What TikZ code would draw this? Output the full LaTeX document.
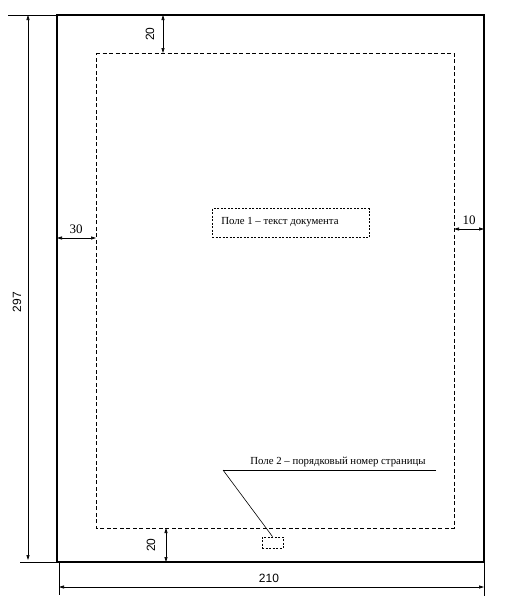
\documentclass[tikz,border=0pt]{standalone}
\usepackage{fontspec}
\setmainfont{Liberation Serif}
\newfontfamily\dimsans{Liberation Sans}
\usetikzlibrary{arrows.meta}
\begin{document}
\begin{tikzpicture}[x=1pt,y=-1pt,
  dimline/.style={line width=0.7pt,{Triangle[length=5pt,width=3pt]}-{Triangle[length=5pt,width=3pt]}},
  extline/.style={line width=0.6pt},
  pageborder/.style={line width=1.6pt},
  fieldline/.style={line width=0.8pt,dash pattern=on 4pt off 2.5pt},
  smallbox/.style={draw,line width=0.8pt,dash pattern=on 2pt off 1.5pt,inner sep=0pt},
  sansnum/.style={font=\dimsans\fontsize{12}{12}\selectfont,inner sep=1pt},
  serifnum/.style={font=\fontsize{13}{13}\selectfont,inner sep=1pt},
  label/.style={font=\fontsize{10.8}{10.8}\selectfont,inner sep=1pt}]
\useasboundingbox (0,0) rectangle (506,606);
% page corners
\coordinate (pTL) at (57,15);
\coordinate (pTR) at (484,15);
\coordinate (pBR) at (484,562);
\coordinate (pBL) at (57,562);
% field corners
\coordinate (fTL) at (96,53);
\coordinate (fTR) at (454,53);
\coordinate (fBR) at (454,528);
\coordinate (fBL) at (96,528);
% page and field
\draw[pageborder] (pTL) -- (pTR) -- (pBR) -- (pBL) -- cycle;
\draw[fieldline] (fTL) -- (fTR) -- (fBR) -- (fBL) -- cycle;
% extension lines
\coordinate (eTop) at (8,15);
\coordinate (eBot) at (20,562);
\coordinate (eL) at (59,595);
\coordinate (eR) at (484,596);
\draw[extline] (pTL) -- (eTop);
\draw[extline] (pBL) -- (eBot);
\draw[extline] (59,562) -- (eL);
\draw[extline] (pBR) -- (eR);
% 297
\coordinate (h1) at (28,15);
\coordinate (h2) at (28,560);
\draw[dimline] (h1) -- (h2);
\node[sansnum,rotate=90] (t297) at (17,302) {297};
% 210
\coordinate (w1) at (59,587);
\coordinate (w2) at (484,587);
\draw[dimline] (w1) -- (w2);
\node[sansnum] (t210) at (269,578) {210};
% top 20
\coordinate (a1) at (163,15);
\coordinate (a2) at (163,53);
\draw[dimline] (a1) -- (a2);
\node[sansnum,rotate=90] (t20a) at (150,34) {20};
% bottom 20
\coordinate (b1) at (166,528);
\coordinate (b2) at (166,562);
\draw[dimline] (b1) -- (b2);
\node[sansnum,rotate=90] (t20b) at (151,545) {20};
% 30
\coordinate (c1) at (57,238);
\coordinate (c2) at (96,238);
\draw[dimline] (c1) -- (c2);
\node[serifnum] (t30) at (76,229) {30};
% 10
\coordinate (d1) at (454,229);
\coordinate (d2) at (484,229);
\draw[dimline] (d1) -- (d2);
\node[serifnum] (t10) at (469,220) {10};
% field 1 box
\node[smallbox,minimum width=157pt,minimum height=29pt,label] (f1) at (290.5,223) {};
\node[label] (f1t) at (280,222) {Поле 1 – текст документа};
% field 2
\node[label] (f2t) at (338,462) {Поле 2 – порядковый номер страницы};
\coordinate (u1) at (223,470);
\coordinate (u2) at (436,470);
\draw[extline] (u2) -- (u1);
\node[smallbox,minimum width=21pt,minimum height=11pt] (pn) at (272.5,542.5) {};
\draw[extline] (u1) -- (pn.north);
\end{tikzpicture}
\end{document}
